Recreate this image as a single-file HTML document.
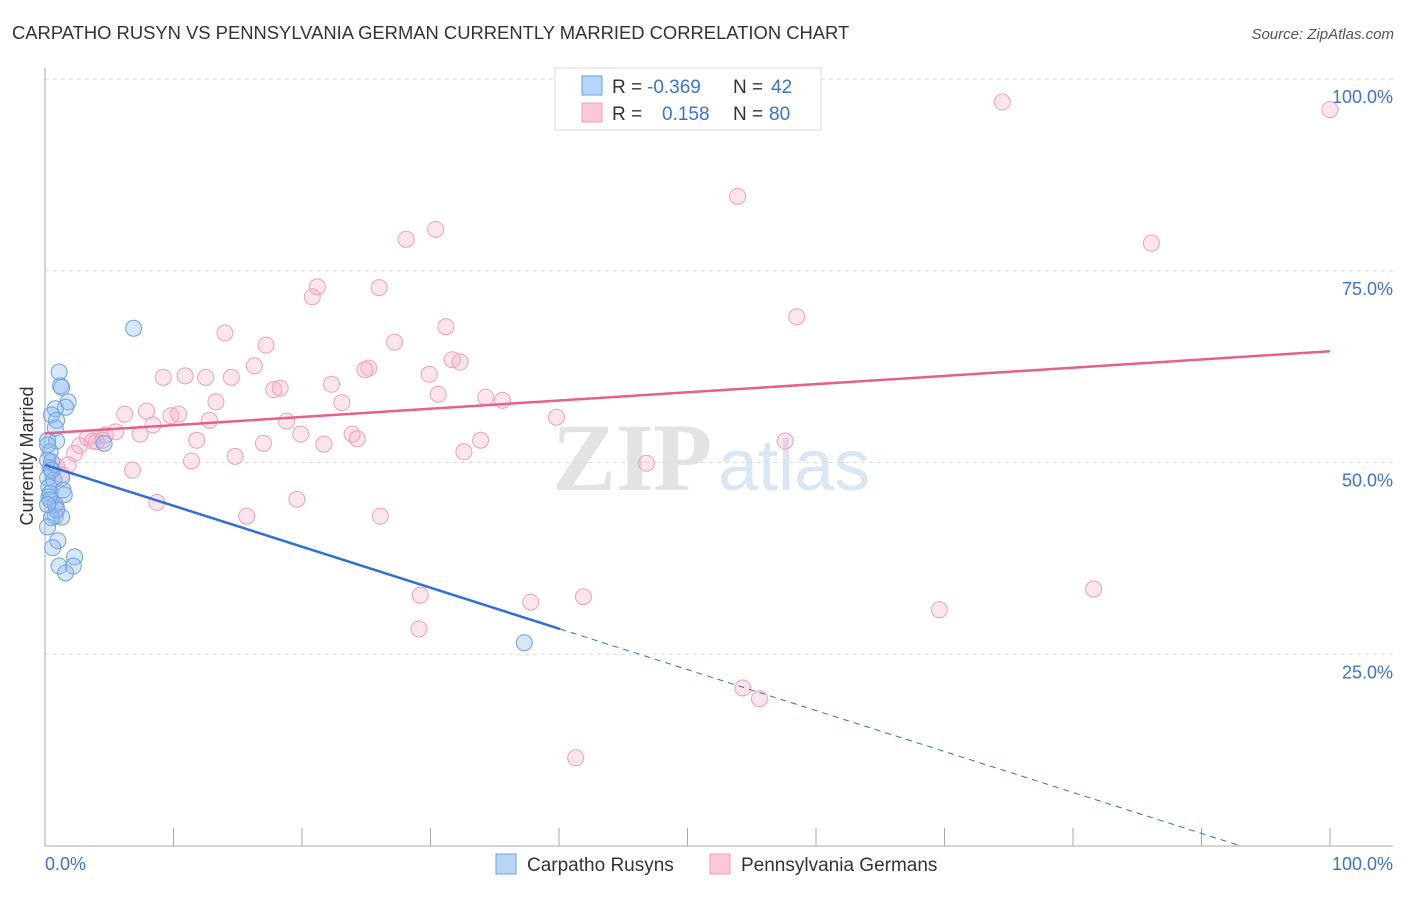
<!DOCTYPE html>
<html><head><meta charset="utf-8"><style>
body{margin:0;background:#fff;font-family:"Liberation Sans",sans-serif;}
</style></head><body>
<svg id="chart" width="1406" height="892" xmlns="http://www.w3.org/2000/svg" font-family="Liberation Sans, sans-serif">
<text x="12" y="39" font-size="18.4" fill="#333">CARPATHO RUSYN VS PENNSYLVANIA GERMAN CURRENTLY MARRIED CORRELATION CHART</text>
<text x="1394" y="39" font-size="15" fill="#555" text-anchor="end" font-style="italic">Source: ZipAtlas.com</text>
<g id="grid"></g>
<text x="552" y="490" font-size="96" fill="#ddd" font-family="Liberation Serif, serif" font-weight="bold" opacity="0.8">ZIP</text>
<text x="718" y="490" font-size="72" fill="#cfe0f5" opacity="0.8">atlas</text>
<g id="marks"></g>
<text transform="translate(33,456) rotate(-90)" font-size="18" fill="#333" text-anchor="middle">Currently Married</text>
<text x="45" y="870" font-size="18" fill="#3a72d8">0.0%</text>
<text x="1393" y="870" font-size="18" fill="#3a72d8" text-anchor="end">100.0%</text>
<g>
<rect x="555" y="68" width="266" height="62" fill="#fff" stroke="#ddd"/>
<rect x="582" y="76" width="20" height="19" fill="#b8d4f6" stroke="#6fa0e0"/>
<rect x="582" y="103" width="20" height="19" fill="#fcc8d8" stroke="#f0a0b8"/>
<text x="612" y="93" font-size="19" fill="#333">R =</text>
<text x="647" y="93" font-size="19" fill="#3a72d8">-0.369</text>
<text x="733" y="93" font-size="19" fill="#333">N =</text>
<text x="771" y="93" font-size="19" fill="#3a72d8">42</text>
<text x="612" y="120" font-size="19" fill="#333">R =</text>
<text x="662" y="120" font-size="19" fill="#3a72d8">0.158</text>
<text x="733" y="120" font-size="19" fill="#333">N =</text>
<text x="769" y="120" font-size="19" fill="#3a72d8">80</text>
</g>
<g>
<rect x="496" y="854" width="20" height="20" fill="#b8d4f6" stroke="#6fa0e0"/>
<text x="527" y="871" font-size="19" fill="#333">Carpatho Rusyns</text>
<rect x="710" y="854" width="20" height="20" fill="#fcc8d8" stroke="#f0a0b8"/>
<text x="741" y="871" font-size="19" fill="#333">Pennsylvania Germans</text>
</g>
</svg>
<script>
const yTicks=[25,50,75,100];
const yTickLabels=["25.0%","50.0%","75.0%","100.0%"];
const xTicks=[10,20,30,40,50,60,70,80,90,100];
const blueX=[6.9,1.1,1.2,1.3,1.8,1.6,0.8,0.5,0.9,0.8,0.2,0.9,4.6,0.4,0.5,0.4,0.2,0.7,1.3,0.3,1.4,0.4,1.5,0.3,0.8,0.8,1.3,0.5,0.2,1.0,0.6,2.3,1.1,2.2,1.6,37.3,0.2,0.2,0.4,0.9,0.2,0.5];
const blueY=[67.5,61.8,60.0,59.8,57.9,57.2,57.0,56.2,55.5,54.5,52.9,52.8,52.5,51.4,50.1,49.3,48.0,47.7,48.0,46.8,46.4,46.0,45.8,45.5,44.5,43.0,42.9,42.8,41.6,39.8,38.9,37.7,36.5,36.5,35.6,26.5,50.3,52.3,45.1,43.8,44.5,49.0];
const pinkX=[74.5,100,53.9,86.1,30.4,28.1,21.2,20.8,26.0,58.5,14.0,31.2,17.2,27.2,16.3,31.7,32.3,25.2,24.9,29.9,9.2,10.9,12.5,14.5,22.3,17.8,18.3,30.6,34.3,35.6,13.3,23.1,6.2,7.9,9.8,10.4,12.8,8.4,18.8,39.8,5.5,4.7,7.4,19.9,23.9,3.3,4.0,4.5,11.8,24.3,33.9,57.6,17.0,21.7,2.7,2.3,32.6,14.8,11.4,46.8,1.8,0.9,6.8,1.3,8.7,19.6,15.7,26.1,0.9,81.6,29.2,41.9,37.8,69.6,29.1,54.3,55.6,41.3,50.1,3.7];
const pinkY=[97.0,96.0,84.7,78.6,80.4,79.1,72.9,71.6,72.8,69.0,66.9,67.7,65.3,65.7,62.6,63.4,63.1,62.3,62.1,61.5,61.1,61.3,61.1,61.1,60.2,59.5,59.7,58.9,58.5,58.1,57.9,57.8,56.3,56.7,56.1,56.3,55.5,54.9,55.4,55.9,54.0,53.6,53.7,53.7,53.7,53.2,52.7,52.9,52.9,53.1,52.9,52.8,52.5,52.4,52.2,51.2,51.4,50.8,50.2,49.9,49.7,49.5,49.0,48.4,44.8,45.2,43.0,43.0,44.1,33.5,32.7,32.5,31.8,30.8,28.3,20.6,19.2,11.5,99.9,52.8];
const blueFit=[49.7,-0.534]; // intercept, slope
const blueSolidEnd=[40.1];
const pinkFit=[53.8,0.107];

const NS="http://www.w3.org/2000/svg";
const X=v=>45+v*12.85, Y=v=>846-v*7.67;
function mk(tag,attrs,parent){const e=document.createElementNS(NS,tag);for(const k in attrs)e.setAttribute(k,attrs[k]);parent.appendChild(e);return e;}
const grid=document.getElementById('grid'), marks=document.getElementById('marks');
yTicks.forEach((t,i)=>{
  const l=mk('line',{x1:45,x2:1393,y1:Y(t),y2:Y(t),stroke:'#ddd','stroke-dasharray':'4,4'},grid);
  
  
  const tx=mk('text',{x:1393,y:Y(t)+24,'font-size':18,fill:'#3a72d8','text-anchor':'end'},grid);
  tx.textContent=yTickLabels[i];
  
  
});
const ax=mk('line',{x1:45,x2:45,y1:68,y2:846,stroke:'#aaa'},grid);


const bx=mk('line',{x1:45,x2:1393,y1:846,y2:846,stroke:'#aaa'},grid);


xTicks.forEach(t=>{
  const l=mk('line',{x1:X(t),x2:X(t),y1:828,y2:846,stroke:'#aaa'},grid);
  
  
});
pinkX.forEach((x,i)=>{
  const c=mk('circle',{cx:X(x),cy:Y(pinkY[i]),r:8,fill:'rgba(248,170,195,0.3)',stroke:'#f0a0b8','stroke-width':1},marks);
  
  
});
blueX.forEach((x,i)=>{
  const c=mk('circle',{cx:X(x),cy:Y(blueY[i]),r:8,fill:'rgba(140,185,240,0.35)',stroke:'#6fa0e0','stroke-width':1},marks);
  
  
});
const pl=mk('line',{x1:X(0),y1:Y(pinkFit[0]),x2:X(100),y2:Y(pinkFit[0]+pinkFit[1]*100),stroke:'#e8608a','stroke-width':2.5},marks);


const bmax=blueSolidEnd[0];
const bl=mk('line',{x1:X(0),y1:Y(blueFit[0]),x2:X(bmax),y2:Y(blueFit[0]+blueFit[1]*bmax),stroke:'#2f6fd8','stroke-width':2.5},marks);


const xEnd=-blueFit[0]/blueFit[1];
const bd=mk('line',{x1:X(bmax),y1:Y(blueFit[0]+blueFit[1]*bmax),x2:X(xEnd),y2:Y(0),stroke:'#2f6fd8','stroke-width':1,'stroke-dasharray':'6,5'},marks);


</script>
</body></html>
